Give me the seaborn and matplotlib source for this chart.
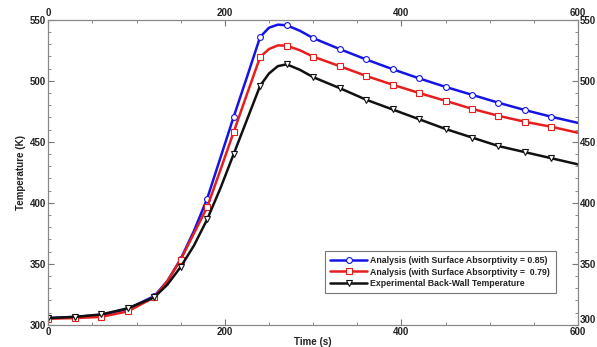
import matplotlib
matplotlib.use("Agg")
import matplotlib.pyplot as plt
import matplotlib.ticker as mticker
import seaborn as sns
import pandas as pd
import numpy as np

sns.set_style("ticks")
plt.rcParams["font.family"] = ["Liberation Sans", "DejaVu Sans"]

# ── data ────────────────────────────────────────────────────────────────────
time_s = [0, 30, 60, 90, 120, 135, 150, 165, 180, 195, 210, 225, 240, 250,
          260, 270, 285, 300, 330, 360, 390, 420, 450, 480, 510, 540, 570, 600]

temp_085 = [305.5, 306.5, 308, 313, 323.5, 336, 354, 377, 403.5, 437, 470.5,
            503, 536, 543.5, 546, 545.5, 541, 535, 526, 517.5, 509.5, 502,
            495, 488.5, 482, 476, 470.5, 465.5]
temp_079 = [305, 305.5, 306.5, 311, 322.5, 336, 353.5, 375, 396.5, 427, 458,
            489, 519.5, 526, 529, 528.8, 525, 519.8, 512, 504, 496.8, 490,
            483.6, 477, 471.3, 466.4, 462.3, 457.4]
temp_exp = [305.5, 306.5, 308.5, 313.5, 322.5, 333, 347.5, 365, 386.5, 412,
            440, 468, 496, 506, 512, 513.5, 509, 503, 494, 484.5, 476.5, 468.5,
            460.5, 453.5, 446.5, 441.5, 436.5, 431.5]

labels = ["Analysis (with Surface Absorptivity = 0.85)",
          "Analysis (with Surface Absorptivity =  0.79)",
          "Experimental Back-Wall Temperature"]

x_ticks = [0, 200, 400, 600]
y_ticks = [300, 350, 400, 450, 500, 550]

series = [(temp_085, "#1414e6", "o"),
          (temp_079, "#e61e1e", "s"),
          (temp_exp, "#111111", "v")]

marker_idx = [i for i, t in enumerate(time_s) if t % 30 == 0 and t <= 570]

fig = plt.figure(figsize=(5.97, 3.47), dpi=100)
ax = fig.add_axes([0.081, 0.064, 0.887, 0.879])

for (vals, color, mk), lab in zip(series, labels):
    df = pd.DataFrame({"t": time_s, "T": vals})
    sns.lineplot(data=df, x="t", y="T", ax=ax, color=color, linewidth=1.8,
                 marker=mk, markersize=4.2, markerfacecolor="white",
                 markeredgecolor=color, markeredgewidth=0.8,
                 markevery=marker_idx, label=lab, sort=False)

ax.set_xlim(0, 600)
ax.set_ylim(300, 550)
ax.xaxis.set_major_locator(mticker.FixedLocator(x_ticks))
ax.yaxis.set_major_locator(mticker.FixedLocator(y_ticks))
ax.xaxis.set_minor_locator(mticker.MultipleLocator(50))
ax.yaxis.set_minor_locator(mticker.MultipleLocator(10))
ax.tick_params(which="both", direction="in", top=True, right=True,
               labeltop=True, labelright=True, colors="#777777",
               labelcolor="#222222", labelsize=7, pad=1.5)
ax.tick_params(which="major", length=4, width=0.8)
ax.tick_params(which="minor", length=2, width=0.6)
for lbl in ax.get_xticklabels() + ax.get_yticklabels():
    lbl.set_fontweight("bold")
# the right-hand "300" sits a little above the corner, as in the original
fig.canvas.draw()
ax.yaxis.get_major_ticks()[0].label2.set_verticalalignment("bottom")
for sp in ax.spines.values():
    sp.set_visible(True)
    sp.set_color("#888888")
    sp.set_linewidth(0.9)

ax.set_xlabel("Time (s)", fontsize=7, fontweight="bold", color="#222222",
              labelpad=0)
ax.set_ylabel("Temperature (K)", fontsize=7, fontweight="bold",
              color="#222222", labelpad=3)

leg = ax.legend(loc="lower right", bbox_to_anchor=(0.966, 0.09), fontsize=6.3,
                frameon=True, fancybox=False, edgecolor="#555555",
                handlelength=4.2, borderpad=0.6, labelspacing=0.25,
                handletextpad=0.4)
leg.get_frame().set_linewidth(0.8)
for txt in leg.get_texts():
    txt.set_fontweight("bold")
    txt.set_color("#222222")

fig.savefig("out.png", dpi=100)
